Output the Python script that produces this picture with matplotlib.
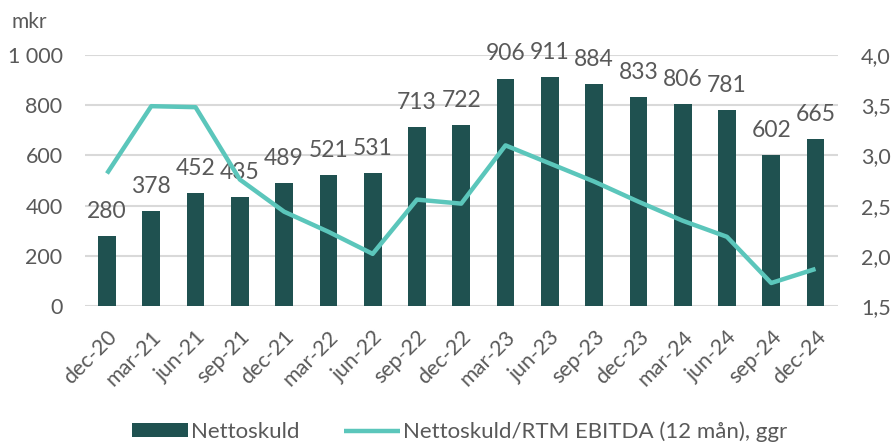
import matplotlib.pyplot as plt
import numpy as np

plt.rcParams['font.family'] = ['Lato', 'DejaVu Sans']

kvartal = ['dec-20', 'mar-21', 'jun-21', 'sep-21', 'dec-21', 'mar-22', 'jun-22', 'sep-22',
           'dec-22', 'mar-23', 'jun-23', 'sep-23', 'dec-23', 'mar-24', 'jun-24', 'sep-24', 'dec-24']
nettoskuld = [280, 378, 452, 435, 489, 521, 531, 713, 722, 906, 911, 884, 833, 806, 781, 602, 665]
skuld_ebitda = [2.82, 3.49, 3.48, 2.76, 2.44, 2.24, 2.02, 2.56, 2.52, 3.10, 2.92, 2.74, 2.54,
                2.35, 2.19, 1.73, 1.87]

bar_farg = '#1F5150'
linje_farg = '#5BC6BB'
text_farg = '#595959'

fig = plt.figure(figsize=(8.93, 4.43), dpi=100)
ax = fig.add_axes([0.095, 0.309, 0.843, 0.567])
x = np.arange(len(kvartal))

ax.bar(x, nettoskuld, width=0.4, color=bar_farg, zorder=2, label='Nettoskuld')
for xi, v in zip(x, nettoskuld):
    ax.annotate(str(v), (xi, v), xytext=(0, 13), textcoords='offset points',
                ha='center', va='baseline', fontsize=16.5, color=text_farg,
                annotation_clip=False, zorder=4)

ax.set_ylim(0, 1000)
ax.set_xlim(-0.5, len(kvartal) - 0.5)
ax.set_yticks(range(0, 1001, 200))
ax.set_yticklabels(['0', '200', '400', '600', '800', '1 000'])
ax.yaxis.grid(True, color='#D9D9D9', linewidth=1.5, zorder=0)
ax.set_axisbelow(True)
ax.set_xticks(x)
ax.set_xticklabels(kvartal, rotation=45, ha='right', rotation_mode='anchor')
for s in ax.spines.values():
    s.set_visible(False)
ax.tick_params(axis='y', length=0, labelsize=15.5, colors=text_farg, pad=16)
ax.tick_params(axis='x', length=0, labelsize=15.5, colors=text_farg, pad=15)

ax2 = ax.twinx()
ax2.plot(x, skuld_ebitda, color=linje_farg, linewidth=3.2, zorder=3,
         label='Nettoskuld/RTM EBITDA (12 mån), ggr', solid_capstyle='butt')
ax2.set_ylim(1.5, 4.0)
ax2.set_yticks(np.arange(1.5, 4.01, 0.5))
ax2.set_yticklabels(['1,5', '2,0', '2,5', '3,0', '3,5', '4,0'])
for s in ax2.spines.values():
    s.set_visible(False)
ax2.tick_params(axis='y', length=0, labelsize=15.5, colors=text_farg, pad=17)

fig.text(0.013, 0.95, 'mkr', fontsize=15, color=text_farg, va='center')

h1, l1 = ax.get_legend_handles_labels()
h2, l2 = ax2.get_legend_handles_labels()
fig.legend(h1 + h2, l1 + l2, loc='center', bbox_to_anchor=(0.515, 0.025), ncol=2,
           frameon=False, fontsize=16, labelcolor=text_farg, handlelength=2.5,
           handleheight=0.6, handletextpad=0.15, columnspacing=2.0)

fig.savefig('out.png', dpi=100)
